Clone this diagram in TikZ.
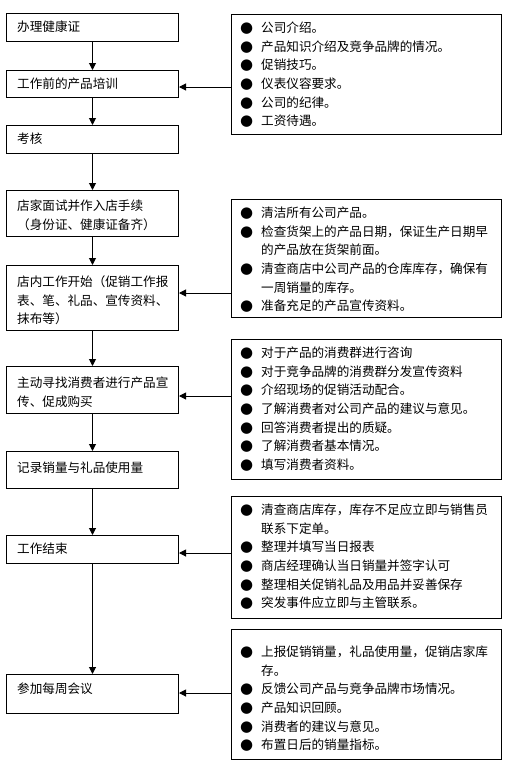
\documentclass[tikz,border=0pt]{standalone}
\usepackage{fontspec}
\setmainfont{Noto Sans CJK SC}
\newfontfamily\dejavu{DejaVu Sans}
\usetikzlibrary{arrows.meta}
\newcommand\bul{\makebox[21pt][l]{\dejavu\fontsize{15}{15}\selectfont ●}}
\newcommand\cnt{\hspace*{21pt}}
\begin{document}
\begin{tikzpicture}[x=1pt,y=-1pt,
  box/.style={draw, line width=1pt, anchor=north west, inner sep=0pt},
  txt/.style={anchor=north west, inner sep=0pt, align=left, font=\fontsize{12.6}{18.7}\selectfont},
  arr/.style={-{Triangle[width=7pt,length=7pt]}, line width=1pt}]
\useasboundingbox (0,0) rectangle (510,763);
% left boxes
\node[box, minimum width=172pt, minimum height=28pt] (l1) at (6,13) {};
\node[box, minimum width=172pt, minimum height=27pt] (l2) at (6,70) {};
\node[box, minimum width=172pt, minimum height=28pt] (l3) at (6,125) {};
\node[box, minimum width=172pt, minimum height=46pt] (l4) at (6,190) {};
\node[box, minimum width=172pt, minimum height=65pt] (l5) at (6,265) {};
\node[box, minimum width=172pt, minimum height=47pt] (l6) at (6,366) {};
\node[box, minimum width=172pt, minimum height=37pt] (l7) at (6,451) {};
\node[box, minimum width=172pt, minimum height=28pt] (l8) at (6,535) {};
\node[box, minimum width=172pt, minimum height=39pt] (l9) at (6,674) {};
% left texts
\node[txt] (t1) at (17,20.5) {办理健康证};
\node[txt] (t2) at (17,77.5) {工作前的产品培训};
\node[txt] (t3) at (17,132.5) {考核};
\node[txt] (t4) at (17,199.5) {店家面试并作入店手续\\（身份证、健康证备齐）};
\node[txt] (t5) at (17,275.5) {店内工作开始（促销工作报\\表、笔、礼品、宣传资料、\\抹布等）};
\node[txt] (t6) at (17,376.5) {主动寻找消费者进行产品宣\\传、促成购买};
\node[txt] (t7) at (17,461.5) {记录销量与礼品使用量};
\node[txt] (t8) at (17,542.5) {工作结束};
\node[txt] (t9) at (17,682.5) {参加每周会议};
% right boxes
\node[box, minimum width=270pt, minimum height=120pt] (r1) at (231,14) {};
\node[box, minimum width=270pt, minimum height=118pt] (r2) at (231,199) {};
\node[box, minimum width=270pt, minimum height=140pt] (r3) at (231,339) {};
\node[box, minimum width=270pt, minimum height=122pt] (r4) at (231,496) {};
\node[box, minimum width=270pt, minimum height=130pt] (r5) at (231,629) {};
% right texts
\node[txt] (s1) at (240,21.5) {\bul 公司介绍。\\\bul 产品知识介绍及竞争品牌的情况。\\\bul 促销技巧。\\\bul 仪表仪容要求。\\\bul 公司的纪律。\\\bul 工资待遇。};
\node[txt] (s2) at (240,206.5) {\bul 清洁所有公司产品。\\\bul 检查货架上的产品日期，保证生产日期早\\\cnt 的产品放在货架前面。\\\bul 清查商店中公司产品的仓库库存，确保有\\\cnt 一周销量的库存。\\\bul 准备充足的产品宣传资料。};
\node[txt] (s3) at (240,346.5) {\bul 对于产品的消费群进行咨询\\\bul 对于竞争品牌的消费群分发宣传资料\\\bul 介绍现场的促销活动配合。\\\bul 了解消费者对公司产品的建议与意见。\\\bul 回答消费者提出的质疑。\\\bul 了解消费者基本情况。\\\bul 填写消费者资料。};
\node[txt] (s4) at (240,503.5) {\bul 清查商店库存，库存不足应立即与销售员\\\cnt 联系下定单。\\\bul 整理并填写当日报表\\\bul 商店经理确认当日销量并签字认可\\\bul 整理相关促销礼品及用品并妥善保存\\\bul 突发事件应立即与主管联系。};
\node[txt] (s5) at (240,645.5) {\bul 上报促销销量，礼品使用量，促销店家库\\\cnt 存。\\\bul 反馈公司产品与竞争品牌市场情况。\\\bul 产品知识回顾。\\\bul 消费者的建议与意见。\\\bul 布置日后的销量指标。};
% vertical arrows
\draw[arr] (l1.south) -- (l2.north);
\draw[arr] (l2.south) -- (l3.north);
\draw[arr] (l3.south) -- (l4.north);
\draw[arr] (l4.south) -- (l5.north);
\draw[arr] (l5.south) -- (l6.north);
\draw[arr] (l6.south) -- (l7.north);
\draw[arr] (l7.south) -- (l8.north);
\draw[arr] (l8.south) -- (l9.north);
% horizontal arrows
\coordinate (y2) at (0,87);
\coordinate (y5) at (0,293);
\coordinate (y6) at (0,396);
\coordinate (y8) at (0,553);
\coordinate (y9) at (0,693);
\draw[arr] (r1.west |- y2) -- (l2.east |- y2);
\draw[arr] (r2.west |- y5) -- (l5.east |- y5);
\draw[arr] (r3.west |- y6) -- (l6.east |- y6);
\draw[arr] (r4.west |- y8) -- (l8.east |- y8);
\draw[arr] (r5.west |- y9) -- (l9.east |- y9);
\end{tikzpicture}
\end{document}
